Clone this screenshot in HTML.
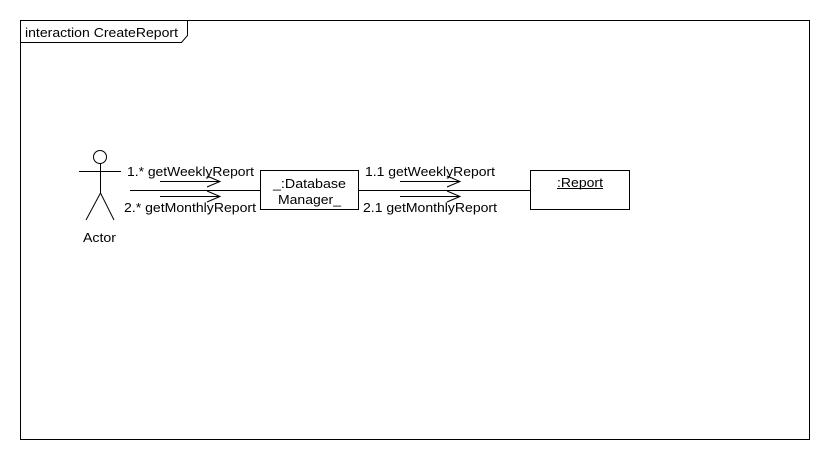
<!DOCTYPE html>
<html><head><style>body{margin:0;background:#fff}svg{display:block}text{font-family:"Liberation Sans",Arial,sans-serif;font-size:13px;fill:#000}</style></head>
<body>
<svg width="830" height="460" viewBox="0 0 830 460" xmlns="http://www.w3.org/2000/svg">
<g fill="none" stroke="#000" stroke-width="1" shape-rendering="crispEdges">
<rect x="20.5" y="20.5" width="789" height="419"/>
</g>
<g fill="none" stroke="#000" stroke-width="1">
<polyline points="20.5,42.5 181.5,42.5 187.5,35.5 187.5,20.5"/>
<circle cx="100" cy="157" r="6.5"/>
<line x1="79" y1="171.5" x2="121" y2="171.5"/>
<line x1="100.5" y1="163" x2="100.5" y2="193"/>
<line x1="100.5" y1="193" x2="86" y2="220"/>
<line x1="100.5" y1="193" x2="114" y2="220"/>
<line x1="130" y1="190.5" x2="260" y2="190.5"/>
<line x1="358" y1="190.5" x2="530" y2="190.5"/>
<rect x="260.5" y="170.5" width="98" height="39"/>
<rect x="530.5" y="170.5" width="99" height="39"/>
<line x1="160" y1="181.5" x2="220" y2="181.5"/>
<polyline points="207,176 220,181.5 207,187"/>
<line x1="160" y1="196.5" x2="220" y2="196.5"/>
<polyline points="207,191 220,196.5 207,202"/>
<line x1="400" y1="181.5" x2="460" y2="181.5"/>
<polyline points="447,176 460,181.5 447,187"/>
<line x1="400" y1="196.5" x2="460" y2="196.5"/>
<polyline points="447,191 460,196.5 447,202"/>
<line x1="557" y1="188.5" x2="603" y2="188.5"/>
</g>
<text x="25" y="37" textLength="153" lengthAdjust="spacingAndGlyphs">interaction CreateReport</text>
<text x="83" y="242" textLength="33" lengthAdjust="spacingAndGlyphs">Actor</text>
<text x="127" y="176" textLength="127" lengthAdjust="spacingAndGlyphs">1.* getWeeklyReport</text>
<text x="124" y="212" textLength="132" lengthAdjust="spacingAndGlyphs">2.* getMonthlyReport</text>
<text x="365" y="176" textLength="130" lengthAdjust="spacingAndGlyphs">1.1 getWeeklyReport</text>
<text x="363" y="212" textLength="134" lengthAdjust="spacingAndGlyphs">2.1 getMonthlyReport</text>
<text x="273" y="188" textLength="73" lengthAdjust="spacingAndGlyphs">_:Database</text>
<text x="278" y="204" textLength="63" lengthAdjust="spacingAndGlyphs">Manager_</text>
<text x="557" y="187" textLength="46" lengthAdjust="spacingAndGlyphs">:Report</text>
</svg>
</body></html>
